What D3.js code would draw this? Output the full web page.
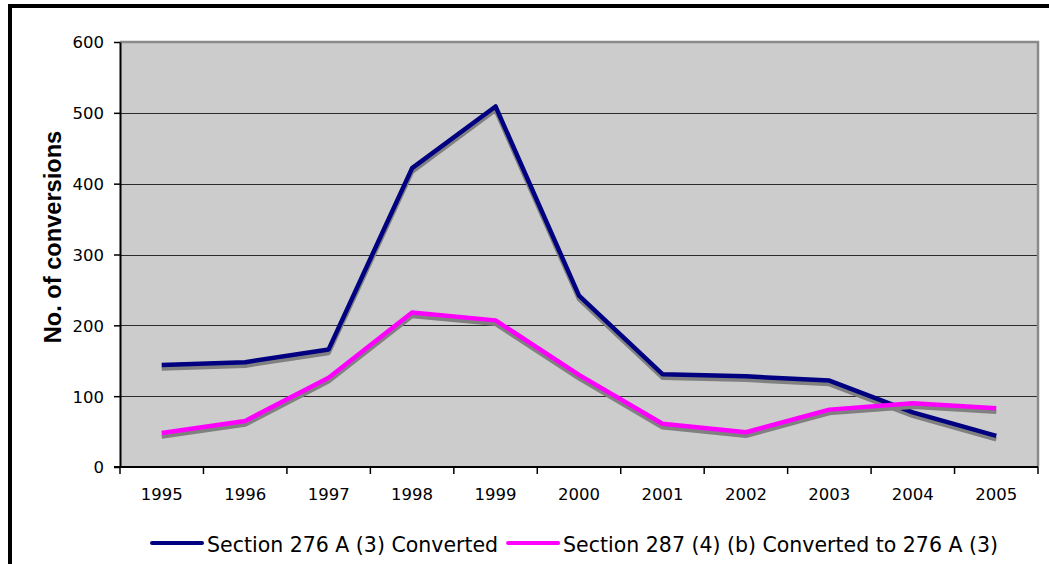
<!DOCTYPE html>
<html>
<head>
<meta charset="utf-8">
<script src="https://cdn.jsdelivr.net/npm/d3@7"></script>
<style>
html,body{margin:0;padding:0;background:#fff;}
svg{display:block;}
</style>
</head>
<body>
<svg id="chart" width="1049" height="564"></svg>
<script>
const years = ["1995","1996","1997","1998","1999","2000","2001","2002","2003","2004","2005"];
const section276 = [144, 148, 166, 422, 509, 242, 131, 128, 122, 77, 44];
const section287 = [48, 65, 126, 218, 207, 130, 61, 49, 81, 90, 83];
const yTicks = [0, 100, 200, 300, 400, 500, 600];
const seriesNames = ["Section 276 A (3) Converted", "Section 287 (4) (b) Converted to 276 A (3)"];
const seriesColors = ["#000080", "#ff00ff"];
const yTitle = "No. of conversions";

const svg = d3.select("#chart");
const W = 1049, H = 564;
const plot = {left: 120, top: 42, right: 1038, bottom: 467};

// outer frame
svg.append("rect").attr("x", 10).attr("y", 6).attr("width", W + 20).attr("height", H + 20)
  .attr("fill", "#fff").attr("stroke", "#000").attr("stroke-width", 4);

const x = d3.scaleBand().domain(years).range([plot.left, plot.right]).padding(0);
const y = d3.scaleLinear().domain([0, 600]).range([plot.bottom, plot.top]);

// plot background
svg.append("rect").attr("x", plot.left).attr("y", plot.top)
  .attr("width", plot.right - plot.left).attr("height", plot.bottom - plot.top)
  .attr("fill", "#cccccc");

// gridlines
svg.append("g").selectAll("line").data(yTicks.filter(d => d > 0 && d < 600)).join("line")
  .attr("x1", plot.left).attr("x2", plot.right)
  .attr("y1", d => Math.round(y(d)) + 0.5).attr("y2", d => Math.round(y(d)) + 0.5)
  .attr("stroke", "#2a2a2a").attr("stroke-width", 1.2);

// top and right gray border
svg.append("path")
  .attr("d", `M${plot.left},${plot.top} H${plot.right} V${plot.bottom}`)
  .attr("fill", "none").attr("stroke", "#8a8a8a").attr("stroke-width", 2.5);

// lines
const line = d3.line().x((d, i) => x(years[i]) + x.bandwidth() / 2).y(d => y(d));
[section276, section287].forEach((s, k) => {
  svg.append("path").datum(s).attr("d", line)
    .attr("transform", "translate(0,3.5)")
    .attr("fill", "none").attr("stroke", "#808080").attr("stroke-width", 4.5)
    .attr("stroke-linejoin", "round");
  svg.append("path").datum(s).attr("d", line)
    .attr("fill", "none").attr("stroke", seriesColors[k]).attr("stroke-width", 4.5)
    .attr("stroke-linejoin", "round");
});

// y axis
const yAxis = svg.append("g").attr("transform", `translate(${plot.left},0)`)
  .call(d3.axisLeft(y).tickValues(yTicks).tickSize(6).tickPadding(10).tickSizeOuter(0));
yAxis.select(".domain").attr("stroke", "#000").attr("stroke-width", 2);
yAxis.selectAll(".tick line").attr("stroke", "#000").attr("stroke-width", 1.5);
yAxis.selectAll("text").attr("font-family", "DejaVu Sans, Verdana, sans-serif")
  .attr("font-size", 16.5).attr("fill", "#000").attr("dy", "0.36em");

// x axis
const xAxis = svg.append("g").attr("transform", `translate(0,${plot.bottom})`)
  .call(d3.axisBottom(x).tickSize(0).tickPadding(0).tickSizeOuter(0));
xAxis.select(".domain").attr("stroke", "#000").attr("stroke-width", 2)
  .attr("d", `M${plot.left - 6},0H${plot.right}`);
xAxis.selectAll("text").attr("font-family", "DejaVu Sans, Verdana, sans-serif")
  .attr("font-size", 16.5).attr("fill", "#000").attr("y", 33).attr("dy", 0);
const bounds = years.map(d => x(d)).concat([plot.right]);
xAxis.append("g").selectAll("line").data(bounds).join("line")
  .attr("x1", d => d).attr("x2", d => d).attr("y1", 0).attr("y2", 7)
  .attr("stroke", "#000").attr("stroke-width", 1.5);

// y title
svg.append("text")
  .attr("transform", `translate(61,237) rotate(-90)`)
  .attr("text-anchor", "middle")
  .attr("font-family", "Liberation Sans, Arial, sans-serif").attr("font-weight", "bold")
  .attr("font-size", 23.6).attr("fill", "#000").text(yTitle);

// legend
const legend = svg.append("g");
const legY = 543;
let lx = 152;
seriesNames.forEach((name, k) => {
  legend.append("line").attr("x1", lx).attr("x2", lx + 50).attr("y1", legY).attr("y2", legY)
    .attr("stroke", seriesColors[k]).attr("stroke-width", 4).attr("stroke-linecap", "round");
  const t = legend.append("text").attr("x", lx + 55).attr("y", legY + 9)
    .attr("font-family", "DejaVu Sans, Verdana, sans-serif").attr("font-size", 20.5)
    .attr("fill", "#000").text(name);
  lx = lx + 55 + t.node().getComputedTextLength() + 10;
});
</script>
</body>
</html>
